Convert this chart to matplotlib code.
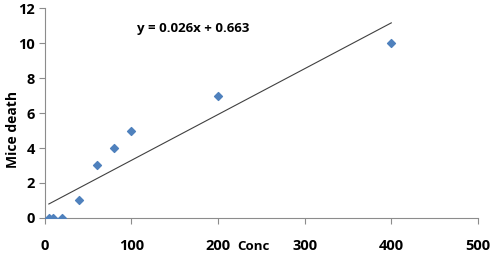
import numpy as np
import matplotlib
matplotlib.use("Agg")
import matplotlib.pyplot as plt

# Data
conc = [5, 10, 20, 40, 60, 80, 100, 200, 400]
mice_death = [0, 0, 0, 1, 3, 4, 5, 7, 10]
x_ticks = [0, 100, 200, 300, 400, 500]
y_ticks = [0, 2, 4, 6, 8, 10, 12]
equation_text = "y = 0.026x + 0.663"

plt.rcParams['font.family'] = ['Open Sans', 'DejaVu Sans']

fig = plt.figure(figsize=(5, 2.6), dpi=100)
ax = fig.add_axes([0.089, 0.162, 0.867, 0.806])

ax.scatter(conc, mice_death, marker='D', s=16, color='#4F81BD', zorder=3)

# linear trendline over the data range
coeffs = np.polyfit(conc, mice_death, 1)
x_fit = np.array([min(conc), max(conc)])
ax.plot(x_fit, np.polyval(coeffs, x_fit), color='#404040', lw=0.8)

ax.text(0.213, 0.905, equation_text, transform=ax.transAxes,
        fontsize=9.5, fontweight='bold', va='center')

ax.set_xlim(0, 500)
ax.set_ylim(0, 12)
ax.set_xticks(x_ticks)
ax.set_yticks(y_ticks)

for side in ['top', 'right']:
    ax.spines[side].set_visible(False)
for side in ['left', 'bottom']:
    ax.spines[side].set_color('#8C8C8C')
    ax.spines[side].set_linewidth(0.8)

ax.tick_params(axis='x', length=4, color='#8C8C8C', pad=11, labelsize=10.5)
ax.tick_params(axis='y', length=4, color='#8C8C8C', pad=3, labelsize=10.5)
for lbl in ax.get_xticklabels() + ax.get_yticklabels():
    lbl.set_fontweight('bold')

ax.set_ylabel('Mice death', fontsize=10, fontweight='bold')
ax.yaxis.set_label_coords(-0.056, 0.42)
fig.text(0.475, 0.05, 'Conc', fontsize=9.5, fontweight='bold', va='center')

fig.savefig('out.png', dpi=100)
